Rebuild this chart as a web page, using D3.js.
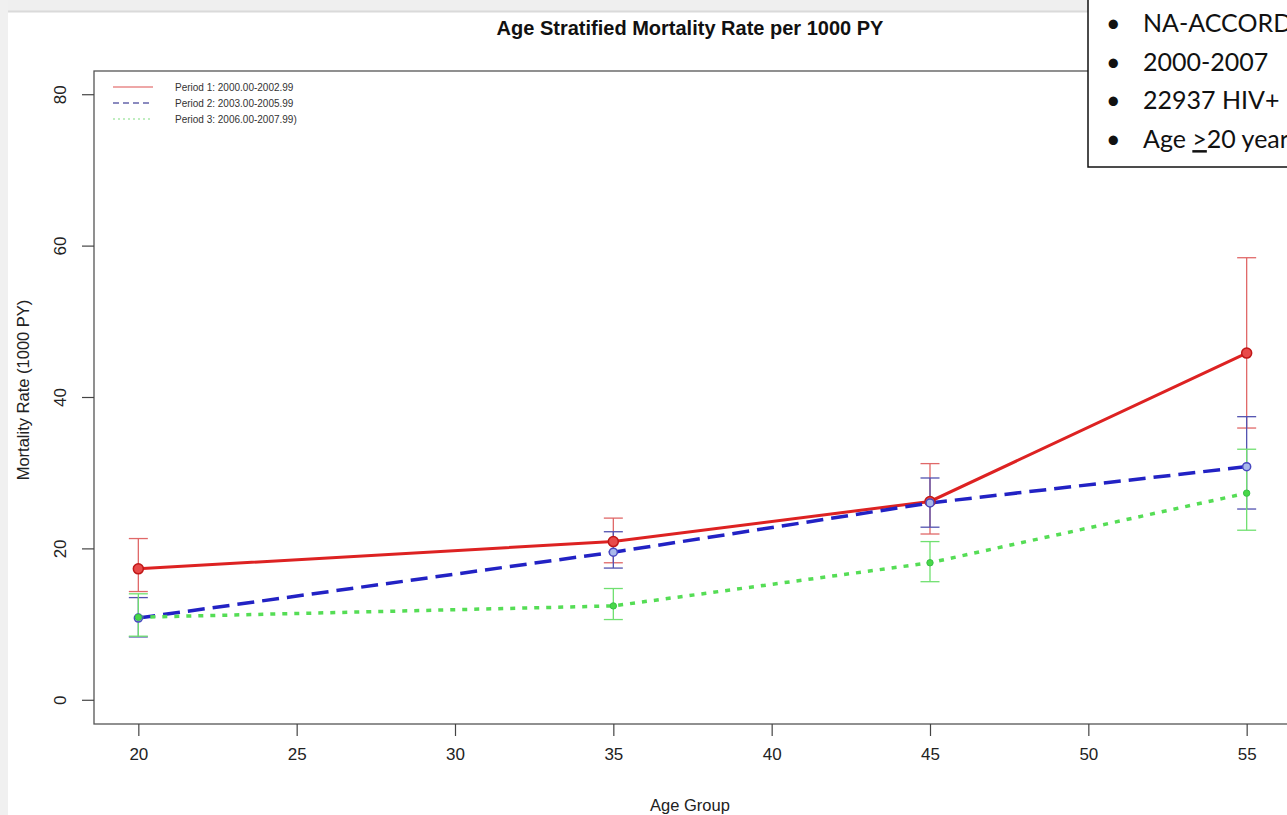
<!DOCTYPE html>
<html>
<head>
<meta charset="utf-8">
<script src="https://cdn.jsdelivr.net/npm/d3@7"></script>
<style>
  body { margin: 0; background: #fff; }
  svg { display: block; font-family: "Liberation Sans", Arial, sans-serif; }
</style>
</head>
<body>
<svg id="chart" width="1287" height="815"></svg>
<script>
// data
const ages = [20, 35, 45, 55];
const xTicks = [20, 25, 30, 35, 40, 45, 50, 55];
const yTicks = [0, 20, 40, 60, 80];

const period1 = [17.3, 20.9, 26.2, 45.8];
const period1Lo = [14.3, 18.1, 21.9, 35.9];
const period1Hi = [21.3, 24.0, 31.2, 58.4];

const period2 = [10.8, 19.5, 26.0, 30.8];
const period2Lo = [8.3, 17.4, 22.8, 25.2];
const period2Hi = [13.5, 22.2, 29.3, 37.4];

const period3 = [10.9, 12.4, 18.1, 27.3];
const period3Lo = [8.4, 10.6, 15.6, 22.4];
const period3Hi = [14.0, 14.7, 20.9, 33.1];

const legendLabels = ["Period 1: 2000.00-2002.99", "Period 2: 2003.00-2005.99", "Period 3: 2006.00-2007.99)"];
const noteLines = ["NA-ACCORD", "2000-2007", "22937 HIV+", "Age ≥20 years"];

const series = [
  { vals: period1, lo: period1Lo, hi: period1Hi, line: "#dd2222", err: "#e06868", dash: null, w: 3, legend: "#e98a8a" },
  { vals: period2, lo: period2Lo, hi: period2Hi, line: "#2222c4", err: "#5252b0", dash: "17,8", w: 3.5, legend: "#6666aa" },
  { vals: period3, lo: period3Lo, hi: period3Hi, line: "#55dd55", err: "#70e070", dash: "5,7", w: 3.5, legend: "#aae8aa" },
];

const svg = d3.select("#chart");

// slide background bits
svg.append("rect").attr("x", 0).attr("y", 0).attr("width", 1287).attr("height", 11).attr("fill", "#efefef");
svg.append("line").attr("x1", 0).attr("x2", 1287).attr("y1", 11.5).attr("y2", 11.5).attr("stroke", "#dadada").attr("stroke-width", 2);
svg.append("rect").attr("x", 0).attr("y", 0).attr("width", 8).attr("height", 815).attr("fill", "#f0f0f0");

const x = d3.scaleLinear().domain([18.6, 56.4]).range([94, 1291]);
const y = d3.scaleLinear().domain([-3.2, 83.2]).range([724, 70]);

// plot box
svg.append("rect")
  .attr("x", 94).attr("y", 71)
  .attr("width", 1291 - 94).attr("height", 724 - 71)
  .attr("fill", "none").attr("stroke", "#555").attr("stroke-width", 1.3);

// axes
const xAxis = svg.append("g")
  .attr("transform", "translate(0,724)")
  .call(d3.axisBottom(x).tickValues(xTicks).tickSize(12).tickPadding(12).tickSizeOuter(0));
xAxis.select(".domain").remove();
xAxis.selectAll("line").attr("stroke", "#444").attr("stroke-width", 1.2);
xAxis.selectAll("text").attr("font-size", 17).attr("fill", "#222").attr("font-family", "Liberation Sans, Arial");

const yAxis = svg.append("g")
  .attr("transform", "translate(94,0)")
  .call(d3.axisLeft(y).tickValues(yTicks).tickSize(12).tickSizeOuter(0));
yAxis.select(".domain").remove();
yAxis.selectAll("line").attr("stroke", "#444").attr("stroke-width", 1.2);
yAxis.selectAll("text")
  .attr("font-size", 17).attr("fill", "#222").attr("font-family", "Liberation Sans, Arial")
  .attr("x", null).attr("dy", null)
  .attr("text-anchor", "middle")
  .attr("transform", "translate(-28,0) rotate(-90)");

// titles
svg.append("text")
  .attr("x", 690).attr("y", 35)
  .attr("text-anchor", "middle")
  .attr("font-size", 20).attr("font-weight", "bold").attr("fill", "#111")
  .text("Age Stratified Mortality Rate per 1000 PY");

svg.append("text")
  .attr("x", 690).attr("y", 811)
  .attr("text-anchor", "middle")
  .attr("font-size", 16.5).attr("fill", "#222")
  .text("Age Group");

svg.append("text")
  .attr("transform", "translate(29,390) rotate(-90)")
  .attr("text-anchor", "middle")
  .attr("font-size", 16.5).attr("fill", "#222")
  .text("Mortality Rate (1000 PY)");

// lines
const line = d3.line().x((d, i) => x(ages[i])).y((d) => y(d));

series.forEach((s) => {
  svg.append("path")
    .datum(s.vals)
    .attr("d", line)
    .attr("fill", "none")
    .attr("stroke", s.line)
    .attr("stroke-width", s.w)
    .attr("stroke-dasharray", s.dash);
});

// error bars
const cap = 9.5;
series.forEach((s) => {
  const g = svg.append("g").attr("stroke", s.err).attr("stroke-width", 1.3).attr("fill", "none");
  ages.forEach((a, i) => {
    g.append("line").attr("x1", x(a)).attr("x2", x(a)).attr("y1", y(s.lo[i])).attr("y2", y(s.hi[i]));
    g.append("line").attr("x1", x(a) - cap).attr("x2", x(a) + cap).attr("y1", y(s.lo[i])).attr("y2", y(s.lo[i]));
    g.append("line").attr("x1", x(a) - cap).attr("x2", x(a) + cap).attr("y1", y(s.hi[i])).attr("y2", y(s.hi[i]));
  });
});

// points
svg.selectAll(".p1").data(period1).enter().append("circle")
  .attr("cx", (d, i) => x(ages[i])).attr("cy", (d) => y(d)).attr("r", 5)
  .attr("fill", "#e84a4a").attr("stroke", "#c01818").attr("stroke-width", 1.5);
svg.selectAll(".p2").data(period2).enter().append("circle")
  .attr("cx", (d, i) => x(ages[i])).attr("cy", (d) => y(d)).attr("r", 4)
  .attr("fill", "#a9b9ea").attr("stroke", "#4848c0").attr("stroke-width", 1.5);
svg.selectAll(".p3").data(period3).enter().append("circle")
  .attr("cx", (d, i) => x(ages[i])).attr("cy", (d) => y(d)).attr("r", 3.2)
  .attr("fill", "#48d848").attr("stroke", "#38c048").attr("stroke-width", 1);

// legend
const legend = svg.append("g");
series.forEach((s, i) => {
  const ly = 87 + i * 16;
  legend.append("line")
    .attr("x1", 113).attr("x2", 153).attr("y1", ly).attr("y2", ly)
    .attr("stroke", s.legend).attr("stroke-width", 1.5)
    .attr("stroke-dasharray", s.dash ? (i === 1 ? "6,4" : "2,3") : null);
  legend.append("text")
    .attr("x", 175).attr("y", ly + 3.5)
    .attr("font-size", 10).attr("fill", "#333")
    .attr("font-family", "Liberation Sans Narrow, Liberation Sans, Arial")
    .text(legendLabels[i]);
});

// note box at top right
svg.append("rect")
  .attr("x", 1088).attr("y", -2).attr("width", 260).attr("height", 169)
  .attr("fill", "#fff").attr("stroke", "#111").attr("stroke-width", 1.5);

const note = svg.append("g").attr("font-family", "Lato, Open Sans, sans-serif").attr("font-size", 25).attr("fill", "#111");
noteLines.forEach((t, i) => {
  const by = 32 + i * 38.7;
  note.append("text").attr("x", 1106).attr("y", by).text("•");
  const tx = note.append("text").attr("x", 1143).attr("y", by);
  if (t.indexOf("≥") >= 0) {
    tx.append("tspan").text("Age ");
    tx.append("tspan").attr("text-decoration", "underline").text(">");
    tx.append("tspan").text("20 years");
  } else {
    tx.text(t);
  }
});
</script>
</body>
</html>
